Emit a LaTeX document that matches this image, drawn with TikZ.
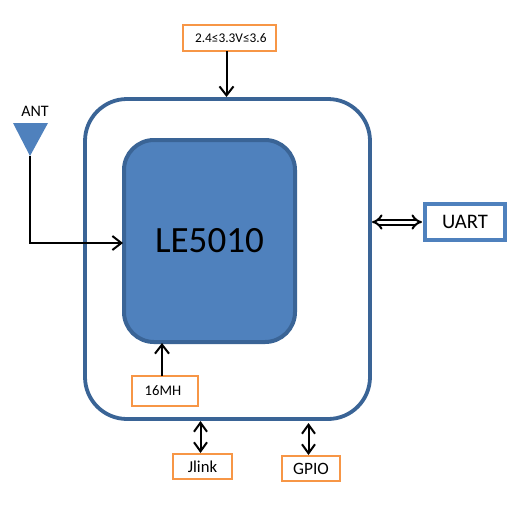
\documentclass[tikz,border=0pt]{standalone}
\usepackage{fontspec}
\setmainfont{Carlito}
\usetikzlibrary{arrows.meta,calc}
\definecolor{bluefill}{HTML}{4F81BD}
\definecolor{blueline}{HTML}{3A6496}
\definecolor{orangeline}{HTML}{F79646}
\def\px{0.75pt}
\tikzset{
  x=0.75pt,y=-0.75pt,
  outerbox/.style={draw=blueline,line width=3.8*\px,fill=white,rounded corners=42*\px,minimum width=285*\px,minimum height=320*\px,inner sep=0pt},
  chipbox/.style={draw=blueline,line width=4*\px,fill=bluefill,rounded corners=30*\px,minimum width=171*\px,minimum height=202*\px,inner sep=0pt,font=\fontsize{27.8pt}{30pt}\selectfont,text=black},
  tagbox/.style={draw=orangeline,line width=2.4*\px,fill=white,inner sep=0pt},
  uartbox/.style={draw=bluefill,line width=4*\px,fill=white,inner sep=0pt,minimum width=80*\px,minimum height=36*\px,font=\fontsize{15.5pt}{17pt}\selectfont},
  conn/.style={draw=black,line width=2*\px,-{Straight Barb[length=9*\px,width=14*\px,line width=2*\px]}},
  bidir/.style={draw=black,line width=2*\px,{Straight Barb[length=9*\px,width=13*\px,line width=2*\px]}-{Straight Barb[length=9*\px,width=13*\px,line width=2*\px]}},
  dbl/.style={draw=black,double=white,double distance=3*\px,line width=2*\px,{Implies}-{Implies}},
  anttri/.style={fill=bluefill,draw=none}
}
\begin{document}
\begin{tikzpicture}
\useasboundingbox (0,0) rectangle (531,508);
\node[outerbox] (outer) at (227.5,259) {};
\node[chipbox] (chip) at (209.5,241) {LE5010};
\node[tagbox,minimum width=93*\px,minimum height=26*\px,font=\fontsize{10pt}{11pt}\selectfont] (power) at (229.5,38) {\hspace{2pt}2.4≤3.3V≤3.6};
\node[tagbox,minimum width=66*\px,minimum height=30*\px,font=\fontsize{11pt}{12pt}\selectfont] (osc) at (165,391) {\hspace{-3pt}16MH};
\node[tagbox,minimum width=59*\px,minimum height=25*\px,font=\fontsize{12.5pt}{14pt}\selectfont] (jlink) at (202.5,466.5) {Jlink};
\node[tagbox,minimum width=58*\px,minimum height=25*\px,font=\fontsize{13pt}{14pt}\selectfont] (gpio) at (311,468.5) {GPIO};
\node[uartbox] (uart) at (465,221.5) {UART};
\fill[anttri] (13,123) coordinate (a1) -- (48,123) coordinate (a2) -- (30,156) coordinate (antip) -- cycle;
\node[font=\fontsize{12pt}{14pt}\selectfont,anchor=base] (antlabel) at (35,116) {ANT};
\coordinate (pwin) at (226.5,97);
\coordinate (pwtop) at (226.5,51);
\draw[conn] (pwtop) -- (pwin);
\coordinate (chipin) at (123,243);
\draw[conn] (antip) |- (chipin);
\coordinate (oscup) at (162,376);
\coordinate (oscin) at (162,343);
\draw[conn] (oscup) -- (oscin);
\coordinate (jt) at (200.5,421);
\coordinate (jb) at (200.5,453);
\draw[bidir] (jt) -- (jb);
\coordinate (gt) at (308.5,423);
\coordinate (gb) at (308.5,455);
\draw[bidir] (gt) -- (gb);
\coordinate (ul) at (372,222);
\coordinate (ur) at (422,222);
\draw[dbl] (ul) -- (ur);
\end{tikzpicture}
\end{document}
